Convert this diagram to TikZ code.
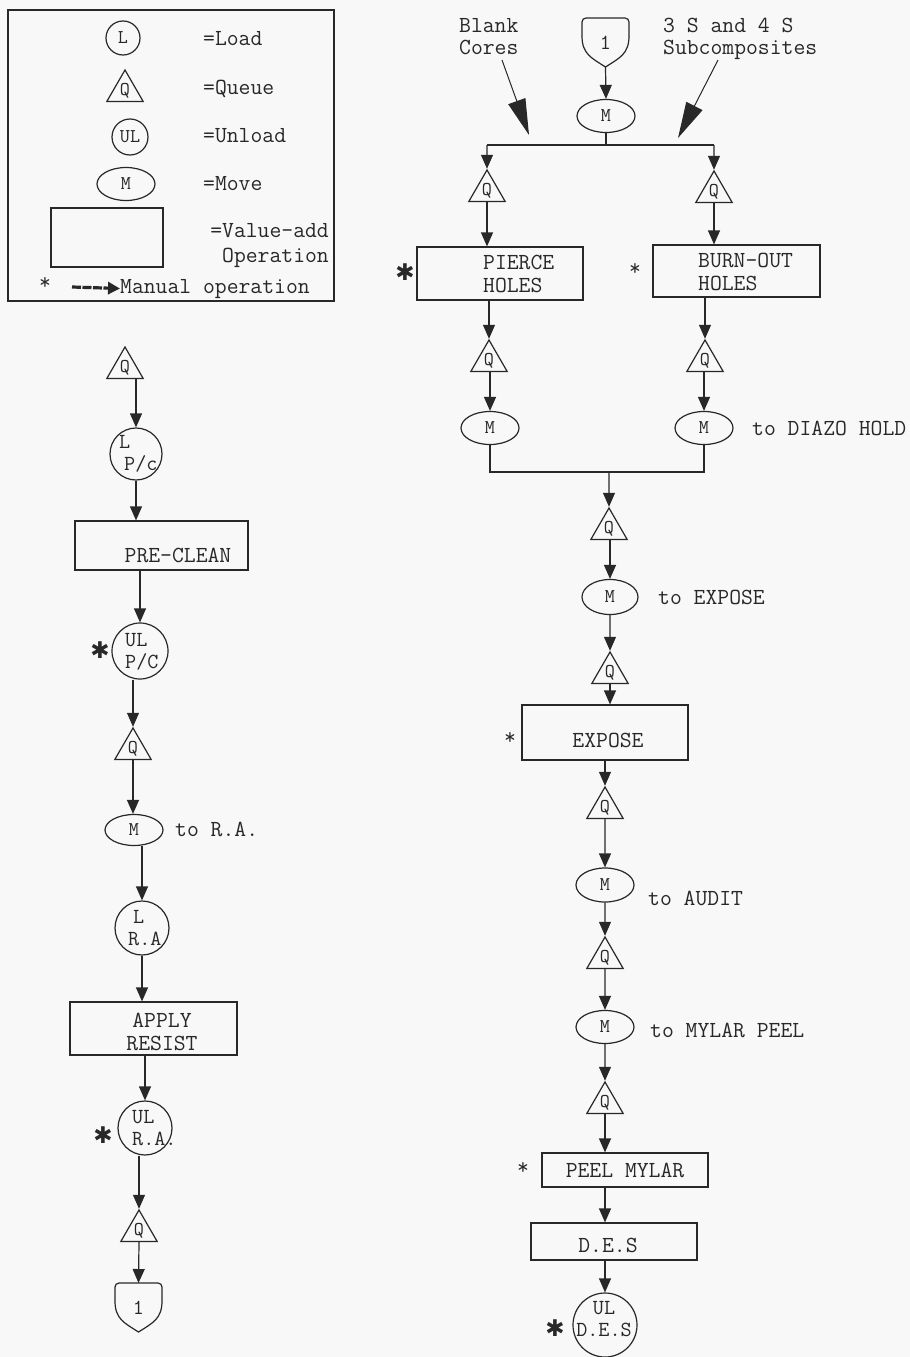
\documentclass[tikz,border=0pt]{standalone}
\usepackage{fontspec}
\newfontfamily\djv{DejaVu Sans}
\usetikzlibrary{shapes.geometric,arrows.meta,calc}
\definecolor{ink}{RGB}{40,40,40}
\definecolor{paper}{RGB}{248,248,248}
\newcommand\tf{\ttfamily\fontsize{23}{23}\selectfont}
\newcommand\tfb{\ttfamily\fontsize{23}{25}\selectfont}
\newcommand\tfc{\ttfamily\fontsize{23}{22}\selectfont}
\newcommand\cf{\ttfamily\fontsize{21.5}{22}\selectfont}
\newcommand\qf{\ttfamily\fontsize{19.5}{20}\selectfont}
\newcommand\drawshield[1]{%
  \draw[bar, rounded corners=4pt] ($(#1.north west)+(0,18)$) -- (#1.north west) -- (#1.north east) -- ($(#1.north east)+(0,18)$);
  \draw[bar] ($(#1.north east)+(0,18)$) .. controls ($(#1.north east)+(0,36)$) and ($(#1.south)+(14,-9)$) .. (#1.south)
     .. controls ($(#1.south)+(-14,-9)$) and ($(#1.north west)+(0,36)$) .. ($(#1.north west)+(0,18)$);}
\tikzset{
  lbl/.style={font=\tf, text=ink, inner sep=0pt},
  qnode/.style={regular polygon, regular polygon sides=3, draw=ink, line width=1.2pt, minimum size=42pt, inner sep=0pt, font=\qf, text=ink},
  mnode/.style={ellipse, draw=ink, line width=1.2pt, minimum width=58pt, minimum height=33pt, inner sep=0pt, font=\qf, text=ink},
  cnode/.style={circle, draw=ink, line width=1.2pt, minimum size=54pt, inner sep=0pt, font=\qf, text=ink},
  box/.style={rectangle, draw=ink, line width=1.2pt, inner sep=0pt, font=\tf, text=ink},
  shieldn/.style={rectangle, minimum width=47pt, minimum height=49pt, inner sep=0pt, outer sep=0pt, font=\cf, text=ink},
  bar/.style={draw=ink, line width=1.2pt},
  flow/.style={draw=ink, line width=1.2pt, -{Triangle[width=12pt,length=14pt]}},
  manual/.style={draw=ink, line width=3.2pt, dash pattern=on 9pt off 1.5pt, -{Triangle[width=12pt,length=12pt]}},
  bigarrow/.style={draw=ink, line width=1pt, -{Triangle[width=18pt,length=36pt]}},
  bigstar/.style={font=\djv\fontsize{23}{23}\selectfont, text=ink, inner sep=0pt},
  smallstar/.style={font=\tf, text=ink, inner sep=0pt}
}
\begin{document}
\begin{tikzpicture}[x=1pt,y=-1pt]
\useasboundingbox (0,0) rectangle (910,1357);
\fill[paper] (0,0) rectangle (910,1357);

% ---------------- legend
\node[box, minimum width=326pt, minimum height=291pt] (legend) at (171,155.5) {};
\node[cnode, minimum size=34pt] (kL) at (123,38) {L};
\node[qnode] (kQ) at (125,91) {Q};
\node[cnode, minimum size=36pt] (kUL) at (130,137) {UL};
\node[mnode] (kM) at (126,184) {M};
\node[box, minimum width=112pt, minimum height=59pt] (kV) at (107,237.5) {};
\node[lbl, anchor=base west] (tL) at (203,45) {=Load};
\node[lbl, anchor=base west] (tQ) at (203,94) {=Queue};
\node[lbl, anchor=base west] (tU) at (203,142) {=Unload};
\node[lbl, anchor=base west] (tM) at (203,190) {=Move};
\node[lbl, font=\tfb, anchor=north east, align=right] (tV) at (329,223) {=Value-add\\Operation};
\node[smallstar] (kstar) at (45,284) {*};
\coordinate (ka) at (72,287);
\node[lbl, anchor=base west] (tMan) at (120,293) {Manual operation};
\draw[manual] (ka) -- (tMan.west);

% ---------------- right column, top
\node[lbl, font=\tfc, anchor=north west, align=left] (blank) at (459,18) {Blank\\Cores};
\node[lbl, font=\tfc, anchor=north west, align=left] (subc) at (663,18) {3 S and 4 S\\Subcomposites};
\node[shieldn] (s1) at (605.5,42.5) {\raisebox{-3pt}{1}};
\drawshield{s1}
\node[mnode] (m0) at (606,116) {M};
\draw[flow] (s1.south) -- (m0.north);
\coordinate (busL) at (487,145);
\coordinate (busR) at (714,145);
\draw[bar] (m0.south) -- (m0.south |- busL);
\draw[bar] (busL) -- (busR);
\coordinate (bA) at (502,60);
\coordinate (bT) at (529,135);
\coordinate (sA) at (718,60);
\coordinate (sT) at (678,138);
\draw[bigarrow] (bA) -- (bT);
\draw[bigarrow] (sA) -- (sT);

\node[qnode] (ql1) at (487,191) {Q};
\node[qnode] (qr1) at (714,192) {Q};
\draw[flow] (busL) -- (ql1.north);
\draw[flow] (busR) -- (qr1.north);

\node[box, minimum width=166pt, minimum height=53pt] (pierce) at (500,273.5) {};
\node[lbl, anchor=north west, align=left] (tpierce) at (483,255) {PIERCE\\HOLES};
\draw[flow] (ql1.south) -- (ql1.south |- pierce.north);
\node[box, minimum width=167pt, minimum height=52pt] (burn) at (736.5,271) {};
\node[lbl, anchor=north west, align=left] (tburn) at (698,253) {BURN-OUT\\HOLES};
\draw[flow] (qr1.south) -- (qr1.south |- burn.north);
\node[bigstar] (st1) at (405,272) {✱};
\node[smallstar] (st2) at (635,270) {*};

\node[qnode] (ql2) at (489,361) {Q};
\node[qnode] (qr2) at (705,361) {Q};
\draw[flow] (pierce.south -| ql2.north) -- (ql2.north);
\draw[flow] (burn.south -| qr2.north) -- (qr2.north);
\node[mnode] (ml) at (490,428) {M};
\node[mnode] (mr) at (704,428) {M};
\draw[flow] (ml.north |- ql2.south) -- (ml.north);
\draw[flow] (mr.north |- qr2.south) -- (mr.north);
\node[lbl, anchor=base west] (tdiazo) at (752,435) {to DIAZO HOLD};
\coordinate (jn) at (609,472);
\draw[bar] (ml.south) -- (ml.south |- jn) -- (mr.south |- jn) -- (mr.south);

% ---------------- right column, centre
\node[qnode] (qc1) at (609,529) {Q};
\draw[flow] (jn) -- (qc1.north);
\node[mnode, minimum width=56pt, minimum height=35pt] (mc1) at (610,597) {M};
\draw[flow] (mc1.north |- qc1.south) -- (mc1.north);
\node[lbl, anchor=base west] (texpose) at (658,604) {to EXPOSE};
\node[qnode] (qc2) at (610,673) {Q};
\draw[flow] (mc1.south) -- (qc2.north);
\node[box, minimum width=166pt, minimum height=55pt] (expose) at (605,732.5) {};
\node[lbl] (texp) at (608,740) {EXPOSE};
\draw[flow] (qc2.south) -- (qc2.south |- expose.north);
\node[smallstar] (st3) at (510,738) {*};

\node[qnode] (qc3) at (605,808) {Q};
\draw[flow] (expose.south -| qc3.north) -- (qc3.north);
\node[mnode, minimum height=34pt] (mc2) at (605,885) {M};
\draw[flow] (qc3.south) -- (mc2.north);
\node[lbl, anchor=base west] (taudit) at (648,905) {to AUDIT};
\node[qnode] (qc4) at (605,958) {Q};
\draw[flow] (mc2.south) -- (qc4.north);
\node[mnode] (mc3) at (605,1027) {M};
\draw[flow] (qc4.south) -- (mc3.north);
\node[lbl, anchor=base west] (tmylar) at (650,1037) {to MYLAR PEEL};
\node[qnode] (qc5) at (605,1103) {Q};
\draw[flow] (mc3.south) -- (qc5.north);
\node[box, minimum width=166pt, minimum height=34pt] (peel) at (625,1170) {PEEL MYLAR};
\draw[flow] (qc5.south) -- (qc5.south |- peel.north);
\node[smallstar] (st4) at (523,1168) {*};
\node[cnode, minimum size=64pt] (uldes) at (605,1325) {};
\node[lbl, font=\cf, align=center] (tuldes) at (604,1319) {UL\\D.E.S};
\node[box, minimum width=166pt, minimum height=37pt] (des) at (614,1241.5) {};
\node[lbl] (tdes) at (608,1245) {D.E.S};
\draw[flow] (peel.south -| uldes.north) -- (des.north -| uldes.north);
\draw[flow] (des.south -| uldes.north) -- (uldes.north);
\node[bigstar] (st5) at (555,1328) {✱};

% ---------------- left column
\node[qnode] (q1) at (125,368) {Q};
\node[cnode, minimum size=52pt] (lpc) at (136,454) {};
\node[lbl, font=\cf, anchor=north west, align=left] (tlpc) at (119,435) {L\\\hspace*{5pt}P/c};
\draw[flow] (lpc.north |- q1.south) -- (lpc.north);
\node[box, minimum width=173pt, minimum height=49pt] (precl) at (161.5,545.5) {};
\node[lbl] (tprecl) at (178,555) {PRE-CLEAN};
\draw[flow] (lpc.south) -- (lpc.south |- precl.north);
\node[cnode, minimum size=56pt] (ulpc) at (140,651) {};
\node[lbl, font=\cf, anchor=north west, align=left] (tulpc) at (125,633) {UL\\P/C};
\draw[flow] (precl.south -| ulpc.north) -- (ulpc.north);
\node[bigstar] (st6) at (100,650) {✱};
\node[qnode] (q2) at (133,749) {Q};
\draw[flow] (ulpc.south -| q2.north) -- (q2.north);
\node[mnode, minimum height=31pt] (m1) at (134,830) {M};
\draw[flow] (q2.south) -- (q2.south |- m1.north);
\node[lbl, anchor=base west] (tra) at (175,836) {to R.A.};
\node[cnode, minimum size=54pt] (lra) at (142,928) {};
\node[lbl, font=\cf, anchor=north west, align=left] (tlra) at (128,910) {\hspace*{5pt}L\\R.A};
\draw[flow] (m1.south -| lra.north) -- (lra.north);
\node[box, minimum width=167pt, minimum height=53pt] (arbox) at (153.5,1028.5) {};
\node[lbl, align=center, anchor=north] (tar) at (162,1013) {APPLY\\RESIST};
\draw[flow] (lra.south) -- (lra.south |- arbox.north);
\node[cnode, minimum size=54pt] (ulra) at (145,1128) {};
\node[lbl, font=\cf, anchor=north west, align=left] (tulra) at (132,1110) {UL\\R.A.};
\draw[flow] (arbox.south -| ulra.north) -- (ulra.north);
\node[bigstar] (st7) at (103,1135) {✱};
\node[qnode] (q3) at (139,1231) {Q};
\draw[flow] (ulra.south -| q3.north) -- (q3.north);
\node[shieldn] (s2) at (138.5,1307.5) {\raisebox{-3pt}{1}};
\drawshield{s2}
\draw[flow] (q3.south) -- (s2.north);
\end{tikzpicture}
\end{document}
